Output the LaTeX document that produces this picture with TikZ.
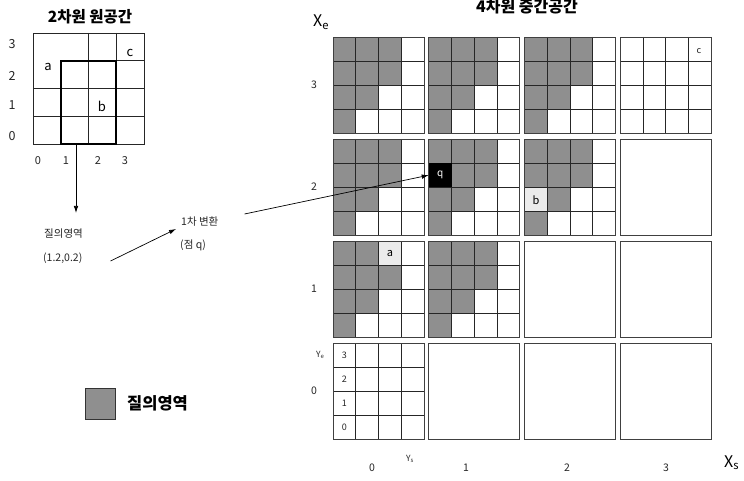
\documentclass[tikz,border=0pt]{standalone}
\usepackage{fontspec}
\setmainfont{Noto Sans CJK KR}
\usetikzlibrary{arrows.meta}
\begin{document}
\begin{tikzpicture}[x=1pt,y=-1pt,
  qshade/.style={fill=black!44},
  lite/.style={fill=black!8},
  blk/.style={draw=black!75,line width=0.8pt},
  cl/.style={draw=black!85,line width=0.6pt},
  lbl/.style={font=\fontsize{10.5}{12}\selectfont, text=black!85, inner sep=0pt},
  small/.style={font=\fontsize{9}{10}\selectfont, text=black!85, inner sep=0pt},
  letter/.style={font=\fontsize{13}{14}\selectfont, inner sep=0pt},
  ttl/.style={font=\bfseries\fontsize{15.5}{17}\selectfont, inner sep=0pt},
  arr/.style={-{Latex[length=7pt,width=4.5pt]}, line width=0.7pt},
]
\useasboundingbox (0,0) rectangle (744,481);
\fill[white] (0,0) rectangle (744,481);

% ---------- 2D original space ----------
\node[ttl] (t2) at (90,17) {2차원 원공간};
\draw[cl] (33,33) rectangle (144,144);
\draw[cl] (88.5,33) -- (88.5,144) (116.25,33) -- (116.25,144);
\draw[cl] (33,88.5) -- (144,88.5) (33,116.25) -- (144,116.25);
\draw[cl] (116.25,60.75) -- (144,60.75);
\draw[line width=1.6pt] (60.75,60.75) rectangle (116.25,144);
\node[letter] (la) at (48,67) {a};
\node[letter] (lb) at (102,106) {b};
\node[letter] (lc) at (130,53) {c};
\node[lbl,font=\fontsize{12.5}{13}\selectfont] (r3) at (12,44) {3};
\node[lbl,font=\fontsize{12.5}{13}\selectfont] (r2) at (12,76) {2};
\node[lbl,font=\fontsize{12.5}{13}\selectfont] (r1) at (12,105) {1};
\node[lbl,font=\fontsize{12.5}{13}\selectfont] (r0) at (12,136) {0};
\node[lbl,font=\fontsize{11}{12}\selectfont] (c0) at (38,161) {0};
\node[lbl,font=\fontsize{11}{12}\selectfont] (c1) at (66,161) {1};
\node[lbl,font=\fontsize{11}{12}\selectfont] (c2) at (98,161) {2};
\node[lbl,font=\fontsize{11}{12}\selectfont] (c3) at (125,161) {3};

% query arrow
\coordinate (qtop) at (76,145);
\coordinate (qend) at (76,213);
\draw[arr] (qtop) -- (qend);
\node[lbl, anchor=west] (qt1) at (44,234) {질의영역};
\node[lbl, anchor=west] (qt2) at (43,258) {(1.2,0.2)};

\node[lbl, anchor=west] (tr1) at (181,222) {1차 변환};
\node[lbl, anchor=west] (tr2) at (180,245) {(점 q)};
\draw[arr] ([xshift=28pt,yshift=-3pt]qt2.east) -- ([xshift=-5pt,yshift=-7pt]tr1.west);

% ---------- 4D intermediate space ----------
\node[ttl,font=\bfseries\fontsize{16}{17}\selectfont] (t4) at (527,7) {4차원 중간공간};

% shaded cells
\foreach \i/\j in {0/1,1/1,0/2,1/2,2/2,0/3,1/3,2/3} {
  \foreach \s/\e in {0/3,1/3,2/3,0/2,1/2,2/2,0/1,1/1,0/0} {
    \fill[qshade] ({333+95.7*\i+22.75*\s},{37+102*(3-\j)+24*(3-\e)}) rectangle ++(22.75,24);
  }
}
% light cells
\fill[white] (378.5,241) rectangle ++(22.75,24);
\fill[lite] (378.5,241) rectangle ++(22.75,24);
\fill[white] (524.4,187) rectangle ++(22.75,24);
\fill[lite] (524.4,187) rectangle ++(22.75,24);

% inner grids
\foreach \i/\j in {0/0,0/1,1/1,0/2,1/2,2/2,0/3,1/3,2/3,3/3} {
  \foreach \k in {1,2,3} {
    \draw[cl] ({333+95.7*\i+22.75*\k},{37+102*(3-\j)}) -- ++(0,96);
    \draw[cl] ({333+95.7*\i},{37+102*(3-\j)+24*\k}) -- ++(91,0);
  }
}
% block borders
\foreach \i in {0,...,3} {
  \foreach \j in {0,...,3} {
    \draw[blk] ({333+95.7*\i},{37+102*(3-\j)}) rectangle ++(91,96);
  }
}

% q cell
\node[fill=black, text=white, minimum width=22.75pt, minimum height=24pt, inner sep=0pt,
      anchor=north west, font=\fontsize{10}{12}\selectfont] (q) at (428.7,163) {q};
\node[letter,font=\fontsize{11}{12}\selectfont] (ca) at (390,254) {a};
\node[letter,font=\fontsize{11}{12}\selectfont] (cb) at (536,200) {b};
\node[small] (cc) at (699,51) {c};

% block (0,0) labels
\node[small] (y3) at (344.4,355) {3};
\node[small] (y2) at (344.4,379) {2};
\node[small] (y1) at (344.4,403) {1};
\node[small] (y0) at (344.4,427) {0};
\node[small,font=\fontsize{8.5}{9}\selectfont,anchor=base west] (ye) at (316,357) {Y\textsubscript{e}};
\node[small,font=\fontsize{8.5}{9}\selectfont,anchor=base west] (ys) at (406,461) {Y\textsubscript{s}};

% outer labels
\node[lbl] (R3) at (314,85) {3};
\node[lbl] (R2) at (314,187) {2};
\node[lbl] (R1) at (314,289) {1};
\node[lbl] (R0) at (314,391) {0};
\node[lbl] (C0) at (372,468) {0};
\node[lbl] (C1) at (466,468) {1};
\node[lbl] (C2) at (567,468) {2};
\node[lbl] (C3) at (666,468) {3};
\node[inner sep=0pt,anchor=base west,font=\fontsize{16}{18}\selectfont] (Xe) at (313,27) {X\textsubscript{e}};
\node[inner sep=0pt,anchor=base west,font=\fontsize{16}{18}\selectfont] (Xs) at (724,467) {X\textsubscript{s}};

% transformation arrow to q
\draw[arr] ([xshift=26pt,yshift=8pt]tr1.east) -- (q.west);

% legend
\node[qshade, draw=black!80, line width=0.7pt, minimum width=30pt, minimum height=31pt, inner sep=0pt] (leg) at (100,403.5) {};
\node[ttl,font=\bfseries\fontsize{16.5}{18}\selectfont, anchor=west] (legt) at (127,403) {질의영역};
\end{tikzpicture}
\end{document}
